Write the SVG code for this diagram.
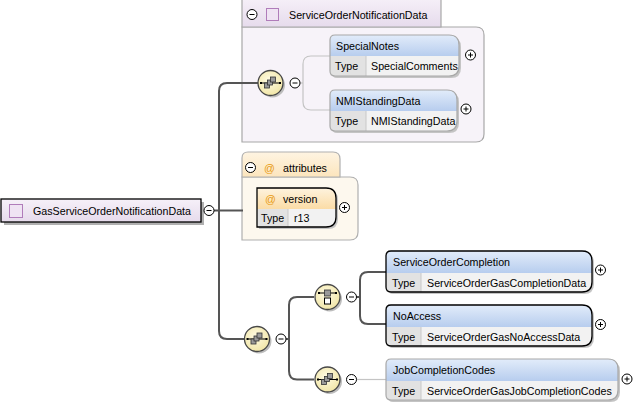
<svg xmlns="http://www.w3.org/2000/svg" xmlns:xlink="http://www.w3.org/1999/xlink" width="635" height="405" viewBox="0 0 635 405">
<style>
text{font-family:"Liberation Sans",Arial,sans-serif;font-size:10.7px;fill:#000}
.at{fill:#e89a10}
.shadow{fill:#c4c4c4}
.ol{fill:none;stroke:#000;stroke-width:1.3}
.olg{fill:none;stroke:#a8a8a8;stroke-width:1.2}
.hdr{fill:url(#gBlue)}
.hdrO{fill:url(#gOrange)}
.tc{fill:#e2e2e2}
.vc{fill:#f2f2f2}
.dv{stroke:#c8c8c8;stroke-width:1}
.btn{fill:#fff;stroke:#000;stroke-width:1}
.bl{stroke:#000;stroke-width:1}
.dk{fill:none;stroke:#555;stroke-width:2}
.lt{fill:none;stroke:#c4c4c4;stroke-width:1.2}
.comp{fill:url(#gYel);stroke:#474747;stroke-width:1.3}
.cshadow{fill:#bdbdbd}
</style>
<defs>
<linearGradient id="gBlue" x1="0" y1="0" x2="0" y2="1"><stop offset="0" stop-color="#e2ecfa"/><stop offset="1" stop-color="#b7cdee"/></linearGradient>
<linearGradient id="gOrange" x1="0" y1="0" x2="0" y2="1"><stop offset="0" stop-color="#fef3de"/><stop offset="1" stop-color="#fbdca6"/></linearGradient>
<linearGradient id="gLav" x1="0" y1="0" x2="0" y2="1"><stop offset="0" stop-color="#f6f0f8"/><stop offset="1" stop-color="#e6dbec"/></linearGradient>
<linearGradient id="gTabO" x1="0" y1="0" x2="0" y2="1"><stop offset="0" stop-color="#fef4e2"/><stop offset="1" stop-color="#fce5bd"/></linearGradient>
<radialGradient id="gYel" cx="0.45" cy="0.4" r="0.6"><stop offset="0" stop-color="#fffbe4"/><stop offset="1" stop-color="#f1e6a8"/></radialGradient>
<g id="minus"><circle r="5" class="btn"/><line x1="-2.5" y1="0" x2="2.5" y2="0" class="bl"/></g>
<g id="plus"><circle r="5" class="btn"/><line x1="-2.5" y1="0" x2="2.5" y2="0" class="bl"/><line x1="0" y1="-2.5" x2="0" y2="2.5" class="bl"/></g>
<g id="seqIcon">
<line x1="-9" y1="0" x2="9" y2="0" stroke="#000" stroke-width="1"/>
<rect x="-10.5" y="-1" width="2" height="2" fill="#000"/>
<rect x="8.5" y="-1" width="2" height="2" fill="#000"/>
<rect x="-6" y="0" width="5" height="5" fill="#9a9a9a" stroke="#333" stroke-width="0.8"/>
<rect x="-3" y="-3" width="5" height="5" fill="#9a9a9a" stroke="#333" stroke-width="0.8"/>
<rect x="0" y="-6" width="5" height="5" fill="#9a9a9a" stroke="#333" stroke-width="0.8"/>
</g>
<g id="choiceIcon">
<line x1="-8" y1="-4" x2="8" y2="-4" stroke="#000" stroke-width="1"/>
<rect x="-9.5" y="-5" width="2" height="2" fill="#000"/>
<rect x="7.5" y="-5" width="2" height="2" fill="#000"/>
<rect x="-3" y="-7" width="6" height="6" fill="#9a9a9a" stroke="#333" stroke-width="0.8"/>
<rect x="-3" y="1" width="6" height="6" fill="#fff" stroke="#000" stroke-width="1"/>
</g>
<path id="pSN" d="M335,35 H449 Q459,35 459,45 V66 Q459,76 449,76 H335 Q330,76 330,71 V40 Q330,35 335,35 Z"/>
<path id="pNMI" d="M335,90 H447 Q457,90 457,100 V121 Q457,131 447,131 H335 Q330,131 330,126 V95 Q330,90 335,90 Z"/>
<path id="pSOC" d="M391,251 H582 Q592,251 592,261 V282 Q592,292 582,292 H391 Q386,292 386,287 V256 Q386,251 391,251 Z"/>
<path id="pNA" d="M391,305 H582 Q592,305 592,315 V336 Q592,346 582,346 H391 Q386,346 386,341 V310 Q386,305 391,305 Z"/>
<path id="pJCC" d="M391,359 H608 Q618,359 618,369 V390 Q618,400 608,400 H391 Q386,400 386,395 V364 Q386,359 391,359 Z"/>
<path id="pVer" d="M257,188 H326 Q336,188 336,198 V217 Q336,227 326,227 H257 Z"/>
<clipPath id="cSN"><use xlink:href="#pSN"/></clipPath>
<clipPath id="cNMI"><use xlink:href="#pNMI"/></clipPath>
<clipPath id="cSOC"><use xlink:href="#pSOC"/></clipPath>
<clipPath id="cNA"><use xlink:href="#pNA"/></clipPath>
<clipPath id="cJCC"><use xlink:href="#pJCC"/></clipPath>
<clipPath id="cVer"><use xlink:href="#pVer"/></clipPath>
</defs>

<!-- group containers -->
<g id="group-ServiceOrderNotificationData">
<path d="M242,27 H476 Q484,27 484,35 V134 Q484,142 476,142 H242 Z" fill="#f7f3f9" stroke="#a8a8a8" stroke-width="1.2"/>
<path d="M242,-2 H441 V27 H242 Z" fill="url(#gLav)" stroke="#a8a8a8" stroke-width="1.2"/>
<use xlink:href="#minus" x="252" y="14.5"/>
<rect x="266.5" y="8.5" width="12" height="12" fill="#efe3f3" stroke="#b07cba" stroke-width="1"/>
<text x="289" y="18.5">ServiceOrderNotificationData</text>
</g>

<g id="group-attributes">
<path d="M242,177 H350 Q358,177 358,185 V232 Q358,240 350,240 H242 Z" fill="#fdf8ee" stroke="#b0b0b0" stroke-width="1.2"/>
<path d="M242,177 V158 Q242,152 248,152 H333 Q340,152 340,159 V177 Z" fill="url(#gTabO)" stroke="#b0b0b0" stroke-width="1.2"/>
<use xlink:href="#minus" x="250.5" y="167.5"/>
<text x="264" y="171.5" class="at">@</text>
<text x="283" y="171.5">attributes</text>
</g>

<!-- connectors -->
<g id="connectors">
<path class="dk" d="M214,210.5 H243"/>
<path class="dk" d="M258,83 H227 Q219,83 219,91 V331 Q219,339 227,339 H244"/>
<path class="lt" d="M300,83 H303"/>
<path class="lt" d="M330,56 H311 Q303,56 303,64 V102 Q303,110 311,110 H330"/>
<path class="dk" d="M286,339 H289"/>
<path class="dk" d="M314,297 H297 Q289,297 289,305 V371 Q289,379.5 297,379.5 H314"/>
<path class="dk" d="M356.5,297 H360"/>
<path class="dk" d="M386,272 H368 Q360,272 360,280 V316 Q360,324 368,324 H386"/>
<path class="lt" d="M356.5,379.5 H386"/>
</g>

<!-- root -->
<g id="node-GasServiceOrderNotificationData">
<rect x="4" y="202" width="200" height="23" fill="#b0b0b0"/>
<rect x="1" y="199" width="200" height="23" fill="url(#gLav)" stroke="#000" stroke-width="1.3"/>
<rect x="9.5" y="204.5" width="13" height="13" fill="#efe3f3" stroke="#b07cba" stroke-width="1"/>
<text x="33" y="214.5">GasServiceOrderNotificationData</text>
<use xlink:href="#minus" x="209" y="210.5"/>
</g>

<!-- compositors -->
<g id="seq-top">
<circle cx="272.5" cy="85" r="12.5" class="cshadow"/>
<circle cx="270.5" cy="83" r="12.5" class="comp"/>
<use xlink:href="#seqIcon" x="270.5" y="83"/>
<use xlink:href="#minus" x="295" y="83"/>
</g>
<g id="seq-bottom">
<circle cx="259" cy="341" r="12.5" class="cshadow"/>
<circle cx="257" cy="339" r="12.5" class="comp"/>
<use xlink:href="#seqIcon" x="257" y="339"/>
<use xlink:href="#minus" x="281" y="339"/>
</g>
<g id="choice">
<circle cx="329.5" cy="299" r="12.5" class="cshadow"/>
<circle cx="327.5" cy="297" r="12.5" class="comp"/>
<use xlink:href="#choiceIcon" x="327.5" y="297"/>
<use xlink:href="#minus" x="351.5" y="297"/>
</g>
<g id="seq-jcc">
<circle cx="329.5" cy="381.5" r="12.5" class="cshadow"/>
<circle cx="327.5" cy="379.5" r="12.5" class="comp"/>
<use xlink:href="#seqIcon" x="327.5" y="379.5"/>
<use xlink:href="#minus" x="351.5" y="379.5"/>
</g>

<!-- elements -->
<g id="node-SpecialNotes">
<use xlink:href="#pSN" class="shadow" transform="translate(2,2)"/>
<g clip-path="url(#cSN)">
<rect x="330" y="35" width="129" height="21" class="hdr"/>
<rect x="330" y="56" width="36" height="20" class="tc"/>
<rect x="366" y="56" width="93" height="20" class="vc"/>
<line x1="366" y1="56" x2="366" y2="76" class="dv"/>
</g>
<use xlink:href="#pSN" class="olg"/>
<text x="336" y="50">SpecialNotes</text>
<text x="335" y="70">Type</text>
<text x="371" y="70">SpecialComments</text>
<use xlink:href="#plus" x="470.5" y="55"/>
</g>

<g id="node-NMIStandingData">
<use xlink:href="#pNMI" class="shadow" transform="translate(2,2)"/>
<g clip-path="url(#cNMI)">
<rect x="330" y="90" width="127" height="21" class="hdr"/>
<rect x="330" y="111" width="36" height="20" class="tc"/>
<rect x="366" y="111" width="91" height="20" class="vc"/>
<line x1="366" y1="111" x2="366" y2="131" class="dv"/>
</g>
<use xlink:href="#pNMI" class="olg"/>
<text x="336" y="105">NMIStandingData</text>
<text x="335" y="125">Type</text>
<text x="371" y="125">NMIStandingData</text>
<use xlink:href="#plus" x="466" y="109"/>
</g>

<g id="node-version">
<use xlink:href="#pVer" class="shadow" transform="translate(2,2)"/>
<g clip-path="url(#cVer)">
<rect x="257" y="188" width="79" height="21" class="hdrO"/>
<rect x="257" y="209" width="31" height="18" class="tc"/>
<rect x="288" y="209" width="48" height="18" class="vc"/>
<line x1="288" y1="209" x2="288" y2="227" class="dv"/>
</g>
<use xlink:href="#pVer" class="ol"/>
<text x="265" y="203" class="at">@</text>
<text x="283" y="203">version</text>
<text x="261" y="222">Type</text>
<text x="294" y="222">r13</text>
<use xlink:href="#plus" x="344.5" y="207.5"/>
</g>

<g id="node-ServiceOrderCompletion">
<use xlink:href="#pSOC" class="shadow" transform="translate(2,2)"/>
<g clip-path="url(#cSOC)">
<rect x="386" y="251" width="206" height="22" class="hdr"/>
<rect x="386" y="273" width="35" height="19" class="tc"/>
<rect x="421" y="273" width="171" height="19" class="vc"/>
<line x1="421" y1="273" x2="421" y2="292" class="dv"/>
</g>
<use xlink:href="#pSOC" class="ol"/>
<text x="393" y="265.5">ServiceOrderCompletion</text>
<text x="392" y="287">Type</text>
<text x="427" y="287">ServiceOrderGasCompletionData</text>
<use xlink:href="#plus" x="600.5" y="270"/>
</g>

<g id="node-NoAccess">
<use xlink:href="#pNA" class="shadow" transform="translate(2,2)"/>
<g clip-path="url(#cNA)">
<rect x="386" y="305" width="206" height="22" class="hdr"/>
<rect x="386" y="327" width="35" height="19" class="tc"/>
<rect x="421" y="327" width="171" height="19" class="vc"/>
<line x1="421" y1="327" x2="421" y2="346" class="dv"/>
</g>
<use xlink:href="#pNA" class="ol"/>
<text x="393" y="319.5">NoAccess</text>
<text x="392" y="341">Type</text>
<text x="427" y="341">ServiceOrderGasNoAccessData</text>
<use xlink:href="#plus" x="600.5" y="324.5"/>
</g>

<g id="node-JobCompletionCodes">
<use xlink:href="#pJCC" class="shadow" transform="translate(2,2)"/>
<g clip-path="url(#cJCC)">
<rect x="386" y="359" width="232" height="22" class="hdr"/>
<rect x="386" y="381" width="35" height="19" class="tc"/>
<rect x="421" y="381" width="197" height="19" class="vc"/>
<line x1="421" y1="381" x2="421" y2="400" class="dv"/>
</g>
<use xlink:href="#pJCC" class="olg"/>
<text x="393" y="373.5">JobCompletionCodes</text>
<text x="392" y="395">Type</text>
<text x="427" y="395">ServiceOrderGasJobCompletionCodes</text>
<use xlink:href="#plus" x="627" y="379"/>
</g>
</svg>
